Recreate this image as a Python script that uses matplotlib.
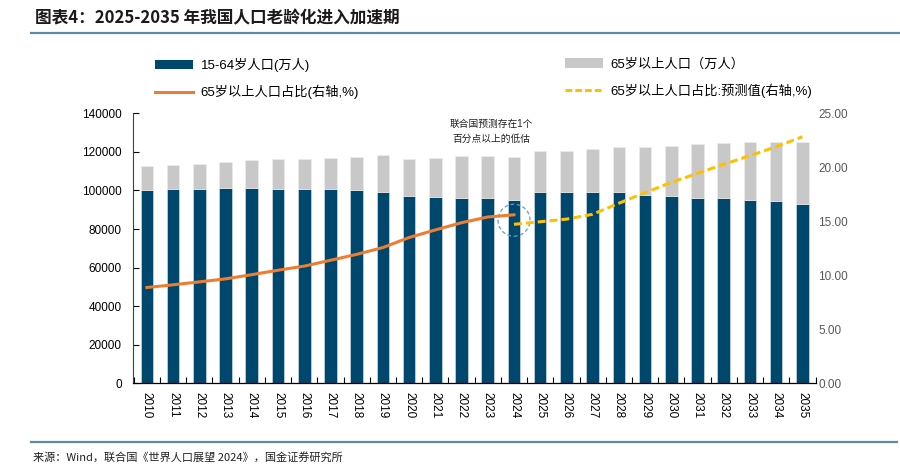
import numpy as np
import matplotlib
matplotlib.use("Agg")
import matplotlib.pyplot as plt
from matplotlib.patches import Patch, Ellipse
from matplotlib.lines import Line2D

plt.rcParams['font.family'] = ['Liberation Sans', 'Noto Sans CJK SC', 'DejaVu Sans']

# data
years = list(range(2010, 2036))
working = [100200, 100600, 100600, 101200, 101100, 100600, 100600, 100600, 100100, 99400,
           97000, 96400, 96300, 96300, 95000, 99000, 99000, 99000, 99000, 97500,
           97000, 96200, 96200, 95100, 94500, 93100]
elderly = [12500, 12600, 13100, 13700, 14500, 15700, 15700, 16200, 17400, 18800,
           19300, 20400, 21300, 21700, 22500, 21600, 21600, 22300, 23500, 25000,
           26200, 27700, 28200, 30000, 30600, 32000]
ratio_years = list(range(2010, 2025))
ratio = [8.87, 9.12, 9.39, 9.67, 10.06, 10.47, 10.85, 11.39, 11.94, 12.57,
         13.50, 14.20, 14.87, 15.40, 15.60]
fc_years = list(range(2024, 2036))
ratio_fc = [14.72, 14.96, 15.20, 15.65, 16.67, 17.65, 18.60, 19.44, 20.28, 21.08, 21.90, 22.83]

dark_blue = '#00476e'
gray = '#c8c8c8'
orange = '#ed7d31'
yellow = '#ffc000'
rule_col = '#5b8ba5'

fig = plt.figure(figsize=(9, 4.66), dpi=100)
ax = fig.add_axes([133 / 900, 1 - 383.3 / 466, (815.5 - 133) / 900, 270 / 466])
ax2 = ax.twinx()

x = np.arange(len(years))
ax.bar(x, working, width=0.48, color=dark_blue, edgecolor='#dfe6ec', linewidth=0.4)
ax.bar(x, elderly, width=0.48, bottom=working, color=gray, edgecolor='#eeeeee', linewidth=0.4)

idx = {y: i for i, y in enumerate(years)}
ax2.plot([idx[y] for y in ratio_years], ratio, color=orange, lw=2.2)
ax2.plot([idx[y] for y in fc_years], ratio_fc, color=yellow, lw=2.2, dashes=(2.6, 1.3))

# dashed circle marking the gap in 2024
ax2.add_patch(Ellipse((idx[2024], 15.1), width=1.22, height=2.96, fill=False,
                      edgecolor='#5b9bd5', lw=0.9, ls=(0, (3, 2))))

ax.set_xlim(-0.53, 25.5)
ax.set_ylim(0, 140000)
ax2.set_ylim(0, 25)

ax.set_xticks(x)
ax.set_xticklabels([str(y) for y in years], rotation=270, fontsize=8.5)
ax.set_xticks(np.arange(-0.5, 26, 1), minor=True)
ax.tick_params(axis='x', which='major', length=0, pad=6)
ax.tick_params(axis='x', which='minor', direction='in', length=4, width=0.8)
ax.set_yticks(np.arange(0, 140001, 20000))
ax.tick_params(axis='y', direction='in', length=4, width=0.8, labelsize=8.5, pad=8)

ax2.set_yticks(np.arange(0, 25.01, 5))
ax2.set_yticklabels(['%.2f' % v for v in np.arange(0, 25.01, 5)])
ax2.tick_params(axis='y', length=0, labelsize=8.5, labelcolor='#595959', pad=2)

for a in (ax, ax2):
    a.spines['top'].set_visible(False)
    a.spines['right'].set_visible(False)
ax2.spines['left'].set_visible(False)
ax2.spines['bottom'].set_visible(False)
ax.spines['left'].set_color('#404040')
ax.spines['left'].set_linewidth(0.8)
ax.spines['bottom'].set_linewidth(0.9)

# legend, two columns
h1 = Patch(facecolor=dark_blue)
h2 = Line2D([], [], color=orange, lw=2.2)
h3 = Patch(facecolor=gray)
h4 = Line2D([], [], color=yellow, lw=2.2, dashes=(2.2, 1.0))
leg_kw = dict(frameon=False, fontsize=9.5, handlelength=2.9, handletextpad=0.55,
              labelspacing=0.98, borderpad=0, borderaxespad=0, loc='upper left')
leg1 = fig.legend([h1, h2], ['15-64岁人口(万人)', '65岁以上人口占比(右轴,%)'],
                  bbox_to_anchor=(155 / 900, 1 - 58 / 466), **leg_kw)
leg2 = fig.legend([h3, h4], ['65岁以上人口（万人）', '65岁以上人口占比:预测值(右轴,%)'],
                  bbox_to_anchor=(565 / 900, 1 - 58 / 466), **leg_kw)

# note
fig.text(491 / 900, 1 - 131 / 466, '联合国预测存在1个\n百分点以上的低估', ha='center', va='center',
         fontsize=7, linespacing=1.6, color='#202020')

# title, rules and source
fig.text(35 / 900, 1 - 18 / 466, '图表4：2025-2035 年我国人口老龄化进入加速期', ha='left', va='center',
         fontsize=12, fontweight='bold', family=['Noto Sans CJK SC', 'DejaVu Sans'], color='#1a1a1a')
fig.add_artist(Line2D([31 / 900, 1], [1 - 33 / 466] * 2, transform=fig.transFigure, color=rule_col, lw=1.6))
fig.add_artist(Line2D([31 / 900, 897 / 900], [1 - 441.7 / 466] * 2, transform=fig.transFigure,
                      color=rule_col, lw=1.6))
fig.text(33 / 900, 1 - 457 / 466, '来源：Wind，联合国《世界人口展望 2024》，国金证券研究所', ha='left', va='center',
         fontsize=8, family=['Noto Sans CJK SC', 'DejaVu Sans'], color='#202020')

fig.savefig('out.png', dpi=100)
